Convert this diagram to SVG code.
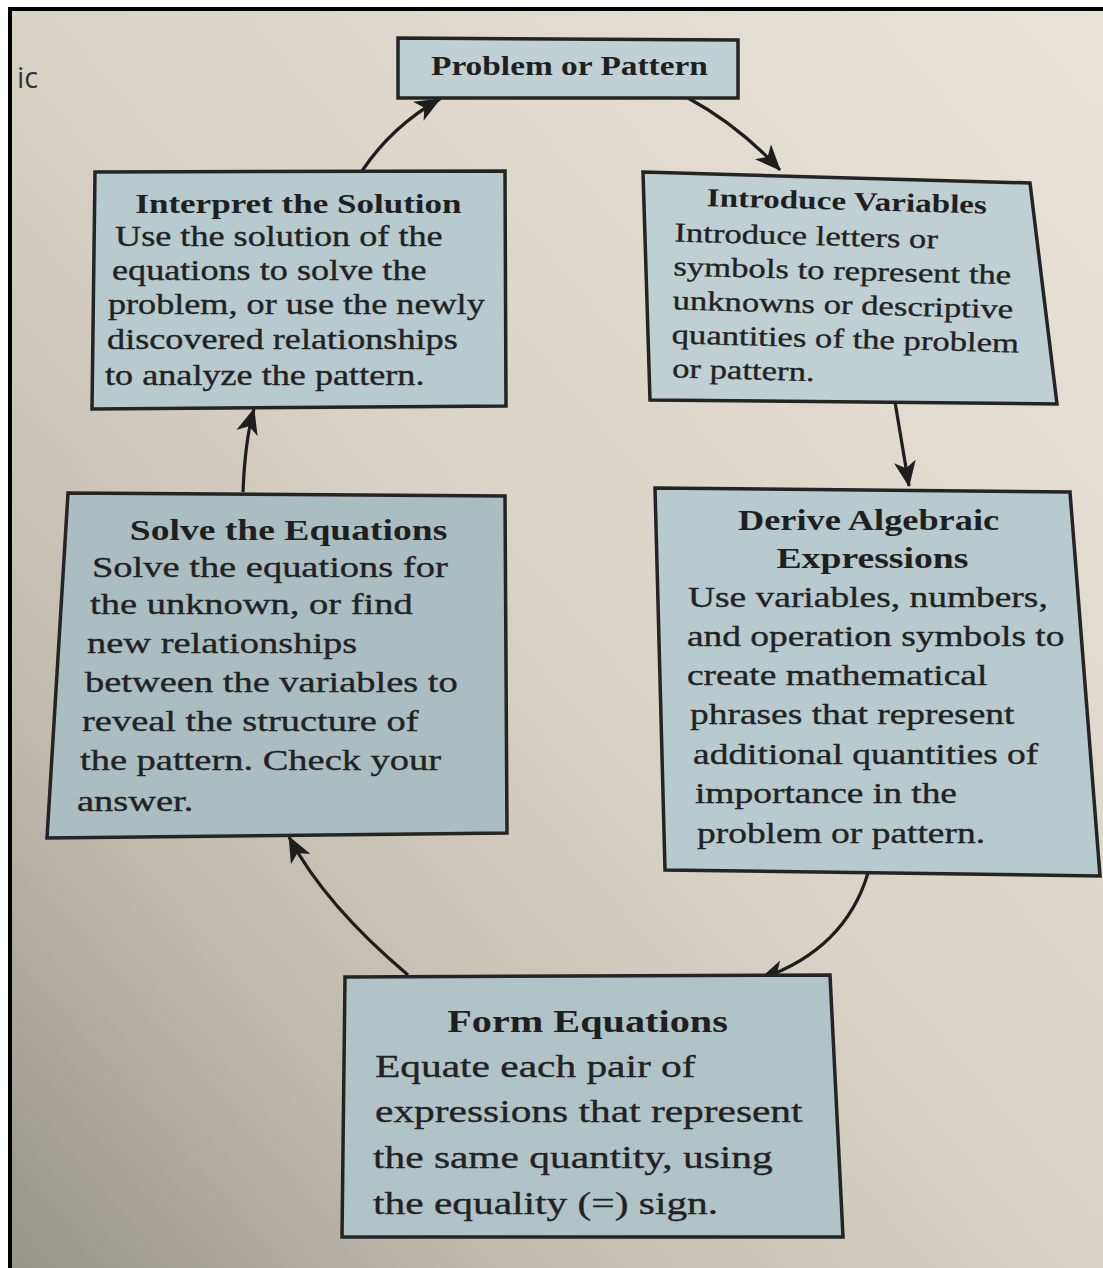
<svg xmlns="http://www.w3.org/2000/svg" width="1103" height="1268" viewBox="0 0 1103 1268">
  <defs>
    <linearGradient id="paper" x1="1" y1="0" x2="0" y2="1">
      <stop offset="0" stop-color="#e8e4d8"/>
      <stop offset="0.5" stop-color="#d9d3c5"/>
      <stop offset="0.78" stop-color="#bfbaac"/>
      <stop offset="1" stop-color="#97948a"/>
    </linearGradient>
    <marker id="head" viewBox="0 0 26 22" refX="25" refY="11" markerWidth="26" markerHeight="22" markerUnits="userSpaceOnUse" orient="auto">
      <path d="M0,0 L26,11 L0,22 L7,11 Z" fill="#1e1e1e"/>
    </marker>
    <style>
      .box { stroke: #242424; stroke-width: 3.5; stroke-linejoin: miter; }
      .title { font-family: "Liberation Serif", "Times New Roman", serif; font-weight: bold; fill: #1f1f1f; text-anchor: middle; }
      .body { font-family: "Liberation Serif", "Times New Roman", serif; fill: #222222; stroke: #222222; stroke-width: 0.35; }
      .conn { fill: none; stroke: #1e1e1e; stroke-width: 3.2; marker-end: url(#head); }
    </style>
  </defs>

  <!-- page and frame -->
  <rect x="0" y="0" width="1103" height="1268" fill="#ffffff"/>
  <rect x="10" y="9" width="1093" height="1259" fill="url(#paper)"/>
  <line x1="10" y1="7" x2="10" y2="1268" stroke="#000" stroke-width="4"/>
  <line x1="8" y1="9" x2="1103" y2="9" stroke="#000" stroke-width="4"/>
  <text x="17" y="88" font-family="'Open Sans', 'Liberation Sans', sans-serif" font-size="29" fill="#353535">ic</text>

  <!-- connectors -->
  <g id="connectors">
    <path class="conn" d="M362,171 Q392,126 440,99"/>
    <path class="conn" d="M688,98 Q738,125 780,170"/>
    <path class="conn" d="M895,402 L909,486"/>
    <path class="conn" d="M868,873 Q845,950 760,979"/>
    <path class="conn" d="M408,975 Q325,905 289,837"/>
    <path class="conn" d="M243,492 Q245,440 254,409"/>
  </g>

  <!-- Problem or Pattern -->
  <g id="node-problem">
    <polygon class="box" points="398,38 738,40 738,98 398,98" fill="#c0d1d3"/>
    <g transform="scale(1.27,1)">
      <text class="title" x="448.4" y="75" font-size="26.3">Problem or Pattern</text>
    </g>
  </g>

  <!-- Interpret the Solution -->
  <g id="node-interpret">
    <polygon class="box" points="95,172 505,171 506,406 92,409" fill="#b7cacd"/>
    <g transform="scale(1.27,1)">
      <text class="title" x="235" y="213" font-size="27.6">Interpret the Solution</text>
      <g class="body" font-size="28.5">
        <text x="90.6" y="246">Use the solution of the</text>
        <text x="88.2" y="280">equations to solve the</text>
        <text x="85" y="314">problem, or use the newly</text>
        <text x="84.3" y="349">discovered relationships</text>
        <text x="82.7" y="385">to analyze the pattern.</text>
      </g>
    </g>
  </g>

  <!-- Introduce Variables -->
  <g id="node-introduce">
    <polygon class="box" points="643,172 1030,183 1057,404 650,400" fill="#bfd0d3"/>
    <g transform="rotate(1.5 850 290)">
      <g transform="scale(1.27,1)">
        <text class="title" x="665" y="210" font-size="26.1">Introduce Variables</text>
        <g class="body" font-size="27.3">
          <text x="529.9" y="246">Introduce letters or</text>
          <text x="529.9" y="280">symbols to represent the</text>
          <text x="529.9" y="314">unknowns or descriptive</text>
          <text x="529.9" y="348">quantities of the problem</text>
          <text x="531" y="382">or pattern.</text>
        </g>
      </g>
    </g>
  </g>

  <!-- Solve the Equations -->
  <g id="node-solve">
    <polygon class="box" points="68,493 505,496 507,833 47,838" fill="#aabdc0"/>
    <g transform="scale(1.27,1)">
      <text class="title" x="227.2" y="540" font-size="29.6">Solve the Equations</text>
      <g class="body" font-size="30.3">
        <text x="72.4" y="577">Solve the equations for</text>
        <text x="70.9" y="614">the unknown, or find</text>
        <text x="68.5" y="653">new relationships</text>
        <text x="66.9" y="692">between the variables to</text>
        <text x="64.6" y="731">reveal the structure of</text>
        <text x="63" y="770">the pattern. Check your</text>
        <text x="60.6" y="811">answer.</text>
      </g>
    </g>
  </g>

  <!-- Derive Algebraic Expressions -->
  <g id="node-derive">
    <polygon class="box" points="655,488 1070,492 1100,876 665,870" fill="#b7cacd"/>
    <g transform="scale(1.27,1)">
      <text class="title" x="683.9" y="530" font-size="28.6">Derive Algebraic</text>
      <text class="title" x="687" y="568" font-size="29.7">Expressions</text>
      <g class="body" font-size="29.5">
        <text x="541.7" y="607">Use variables, numbers,</text>
        <text x="540.9" y="646">and operation symbols to</text>
        <text x="540.9" y="685">create mathematical</text>
        <text x="543.3" y="724">phrases that represent</text>
        <text x="545.7" y="764">additional quantities of</text>
        <text x="547.2" y="803">importance in the</text>
        <text x="548.8" y="843">problem or pattern.</text>
      </g>
    </g>
  </g>

  <!-- Form Equations -->
  <g id="node-form">
    <polygon class="box" points="345,977 830,975 843,1237 342,1237" fill="#b0c3c6"/>
    <g transform="scale(1.27,1)">
      <text class="title" x="462.6" y="1032" font-size="31.7">Form Equations</text>
      <g class="body" font-size="32.6">
        <text x="295.3" y="1077">Equate each pair of</text>
        <text x="295.3" y="1122">expressions that represent</text>
        <text x="293.7" y="1168">the same quantity, using</text>
        <text x="293.7" y="1214">the equality (=) sign.</text>
      </g>
    </g>
  </g>
</svg>
